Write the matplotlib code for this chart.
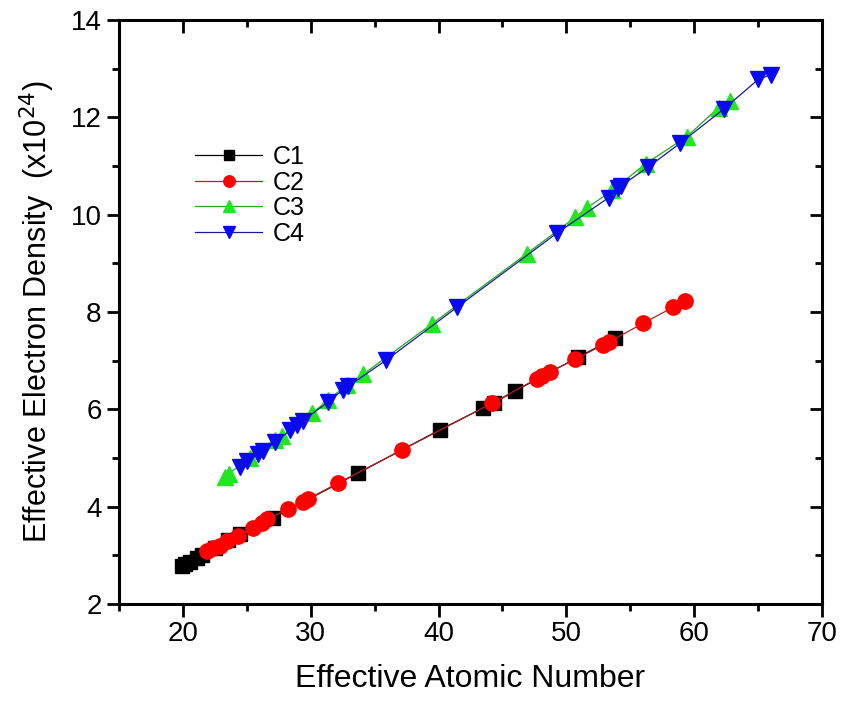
import matplotlib.pyplot as plt
import numpy as np
from matplotlib.ticker import MultipleLocator

plt.rcParams['font.family'] = ['Liberation Sans', 'DejaVu Sans']

# C1 (black squares)
c1_x = [19.9, 20.2, 20.55, 21.1, 21.5, 22.5, 23.5, 24.5, 27.05, 33.7, 40.1, 43.5, 44.3, 46.0, 50.9, 53.8]
c1_y = [2.78, 2.82, 2.86, 2.95, 3.0, 3.15, 3.31, 3.44, 3.77, 4.69, 5.58, 6.03, 6.13, 6.38, 7.07, 7.47]

# C2 (red circles)
c2_x = [21.9, 22.36, 22.9, 23.45, 24.3, 25.5, 26.2, 26.6, 28.2, 29.4, 29.8, 32.1, 37.1,
        44.2, 47.7, 48.1, 48.7, 50.7, 52.9, 53.3, 56.0, 58.35, 59.3]
c2_y = [3.09, 3.15, 3.2, 3.29, 3.4, 3.57, 3.67, 3.74, 3.95, 4.09, 4.16, 4.48, 5.16,
        6.13, 6.63, 6.69, 6.77, 7.03, 7.33, 7.38, 7.77, 8.1, 8.22]

# C3 (green up-triangles)
c3_x = [23.3, 23.6, 25.25, 27.2, 27.75, 30.1, 31.35, 32.8, 34.1, 39.5, 46.9, 50.7, 51.6,
        53.6, 56.2, 59.4, 61.9, 62.8]
c3_y = [4.6, 4.68, 5.0, 5.38, 5.45, 5.92, 6.19, 6.5, 6.72, 7.76, 9.2, 9.95, 10.14,
        10.5, 11.05, 11.6, 12.2, 12.33]

# C4 (blue down-triangles)
c4_x = [24.45, 25.0, 25.9, 26.3, 27.2, 28.4, 28.9, 29.4, 31.35, 32.5, 32.9, 35.9, 41.45,
        49.3, 53.3, 54.0, 54.3, 56.4, 58.9, 62.3, 65.0, 66.0]
c4_y = [4.81, 4.93, 5.08, 5.15, 5.32, 5.57, 5.67, 5.77, 6.15, 6.4, 6.47, 7.01, 8.1,
        9.63, 10.35, 10.55, 10.6, 10.98, 11.47, 12.17, 12.78, 12.88]

fig = plt.figure(figsize=(8.44, 7.06), dpi=100)
ax = fig.add_axes([0.141, 0.1445, 0.833, 0.827])

ax.plot(c1_x, c1_y, color='black', lw=0.9, marker='s', ms=10, mec='black', label='C1')
ax.plot(c2_x, c2_y, color='#b22222', lw=0.9, marker='o', ms=11, mfc='red', mec='red', label='C2')
ax.plot(c3_x, c3_y, color='#22aa22', lw=0.9, marker='^', ms=11, mfc='#22e622', mec='#22e622', label='C3')
ax.plot(c4_x, c4_y, color='#1a1a99', lw=0.9, marker='v', ms=11, mfc='#0a0aee', mec='#0a0aee', label='C4')

ax.set_xlim(15, 70)
ax.set_ylim(2, 14)
ax.xaxis.set_major_locator(MultipleLocator(10))
ax.xaxis.set_minor_locator(MultipleLocator(5))
ax.yaxis.set_major_locator(MultipleLocator(2))
ax.yaxis.set_minor_locator(MultipleLocator(1))
ax.set_xticks([20, 30, 40, 50, 60, 70])

for s in ax.spines.values():
    s.set_linewidth(2.2)
ax.tick_params(which='major', direction='out', length=9, width=2, labelsize=20)
ax.tick_params(which='minor', direction='out', length=5, width=2)
# mirrored inward ticks on top/right
secx = ax.secondary_xaxis('top')
secx.xaxis.set_major_locator(MultipleLocator(10))
secx.xaxis.set_minor_locator(MultipleLocator(5))
secx.tick_params(which='major', direction='in', length=9, width=2, labeltop=False)
secx.tick_params(which='minor', direction='in', length=5, width=2)
secy = ax.secondary_yaxis('right')
secy.yaxis.set_major_locator(MultipleLocator(2))
secy.yaxis.set_minor_locator(MultipleLocator(1))
secy.tick_params(which='major', direction='in', length=9, width=2, labelright=False)
secy.tick_params(which='minor', direction='in', length=5, width=2)

ax.set_xlabel('Effective Atomic Number', fontsize=23, labelpad=12)
ax.set_ylabel('Effective Electron Density  (x10$^{24}$)', fontsize=22, labelpad=10)

ax.legend(loc='upper left', bbox_to_anchor=(0.108, 0.786), frameon=False, fontsize=18,
          markerscale=0.75, handlelength=2.7, labelspacing=0.06, handletextpad=0.4,
          borderaxespad=0, borderpad=0)

fig.savefig('out.png', dpi=100)
